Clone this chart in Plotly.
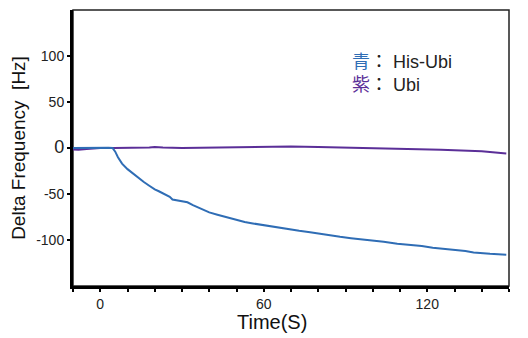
import plotly.graph_objects as go

# Blue: His-Ubi
blue_t = [-10, -5, 0, 3, 4.5, 5.5, 6.5, 8, 10, 12, 14, 16, 18, 20, 21.5, 23, 24.5, 25.5, 26.5, 28, 30, 32, 34, 37, 40, 43, 46, 50, 53, 56, 58, 62, 65, 69, 73, 77, 80, 85, 88, 92, 97, 101, 104, 109, 113, 118, 122, 126, 130, 134, 137, 140, 143, 146, 149]
blue_v = [0, 0.3, 0.5, 0.3, 0, -4, -10, -17, -23, -28, -33, -37, -41, -45, -47, -49, -51, -53, -56, -57, -57.5, -59, -62, -66, -70, -72.5, -75, -78.5, -80.5, -82, -83, -84.5, -86, -88, -90, -91.5, -93, -95, -96.5, -98, -99.5, -100.5, -102, -104, -105, -106.5, -108.5, -109.5, -110.5, -112, -113.5, -114.5, -115, -115.5, -116]

# Purple: Ubi
purple_t = [-10, -8, -5, -2, 0, 5, 10, 15, 18, 20, 23, 30, 40, 50, 60, 70, 80, 90, 100, 110, 118, 125, 130, 135, 140, 145, 149]
purple_v = [-1.5, -2, -1, -0.5, 0, 0, 0, -0.3, 0.5, 1.2, 0.5, 0, 0.5, 0.5, 0.8, 1.5, 1, 0.5, 0, -0.5, -1.5, -2, -2.5, -3, -3.5, -5, -6]

x_tickvals = [0, 60, 120]
y_tickvals = [-100, -50, 0, 50, 100]
y_ticktext = ["-100", "-50", "<span style='font-size:18px'>0</span>", "50", "100"]

BLUE = "#2f6db5"
PURPLE = "#5b2f98"
FONT = "Liberation Sans, Arial, sans-serif"
CJK = "Noto Sans CJK JP"

fig = go.Figure()
fig.add_trace(go.Scatter(x=purple_t, y=purple_v, mode="lines",
                         line=dict(color=PURPLE, width=2), showlegend=False))
fig.add_trace(go.Scatter(x=blue_t, y=blue_v, mode="lines",
                         line=dict(color=BLUE, width=2), showlegend=False))

legend_text = (f"<span style='font-family:{CJK};color:{BLUE}'>青</span>"
               f"<span style='font-family:{CJK}'>：</span> His-Ubi<br>"
               f"<span style='font-family:{CJK};color:{PURPLE}'>紫</span>"
               f"<span style='font-family:{CJK}'>：</span> Ubi")

fig.update_layout(
    width=520, height=330,
    margin=dict(l=65, r=19, t=2, b=52),
    plot_bgcolor="white", paper_bgcolor="white",
    font=dict(family=FONT, color="#222"),
    xaxis=dict(range=[-10, 150], tickvals=x_tickvals, showgrid=False, zeroline=False,
               showline=True, linecolor="black", linewidth=2.5,
               ticks="outside", ticklen=3, tickwidth=1.5, tickcolor="black",
               minor=dict(dtick=10, tick0=0, ticks="outside", ticklen=3, tickwidth=1.5, tickcolor="black"),
               tickfont=dict(size=14, color="#222")),
    yaxis=dict(range=[-150, 150], tickvals=y_tickvals, ticktext=y_ticktext,
               showgrid=False, zeroline=False,
               showline=True, linecolor="black", linewidth=3,
               ticks="outside", ticklen=3, tickwidth=1.5, tickcolor="black",
               tickfont=dict(size=14, color="#222"),
               title=dict(text="Delta Frequency  [Hz]", font=dict(size=19, color="#111"), standoff=8)),
    shapes=[dict(type="rect", xref="paper", yref="paper", x0=0, y0=0, x1=1, y1=1,
                 line=dict(color="#222", width=1.5), layer="below")],
    annotations=[
        dict(xref="paper", yref="paper", x=0.635, y=0.778, xanchor="left", yanchor="middle",
             showarrow=False, align="left", text=legend_text,
             font=dict(size=18, color="#222")),
        dict(xref="paper", yref="paper", x=0.457, y=-0.13, xanchor="center", yanchor="middle",
             showarrow=False, text="Time(S)", font=dict(size=20, color="#111")),
    ],
)

fig.write_html("out.html")
